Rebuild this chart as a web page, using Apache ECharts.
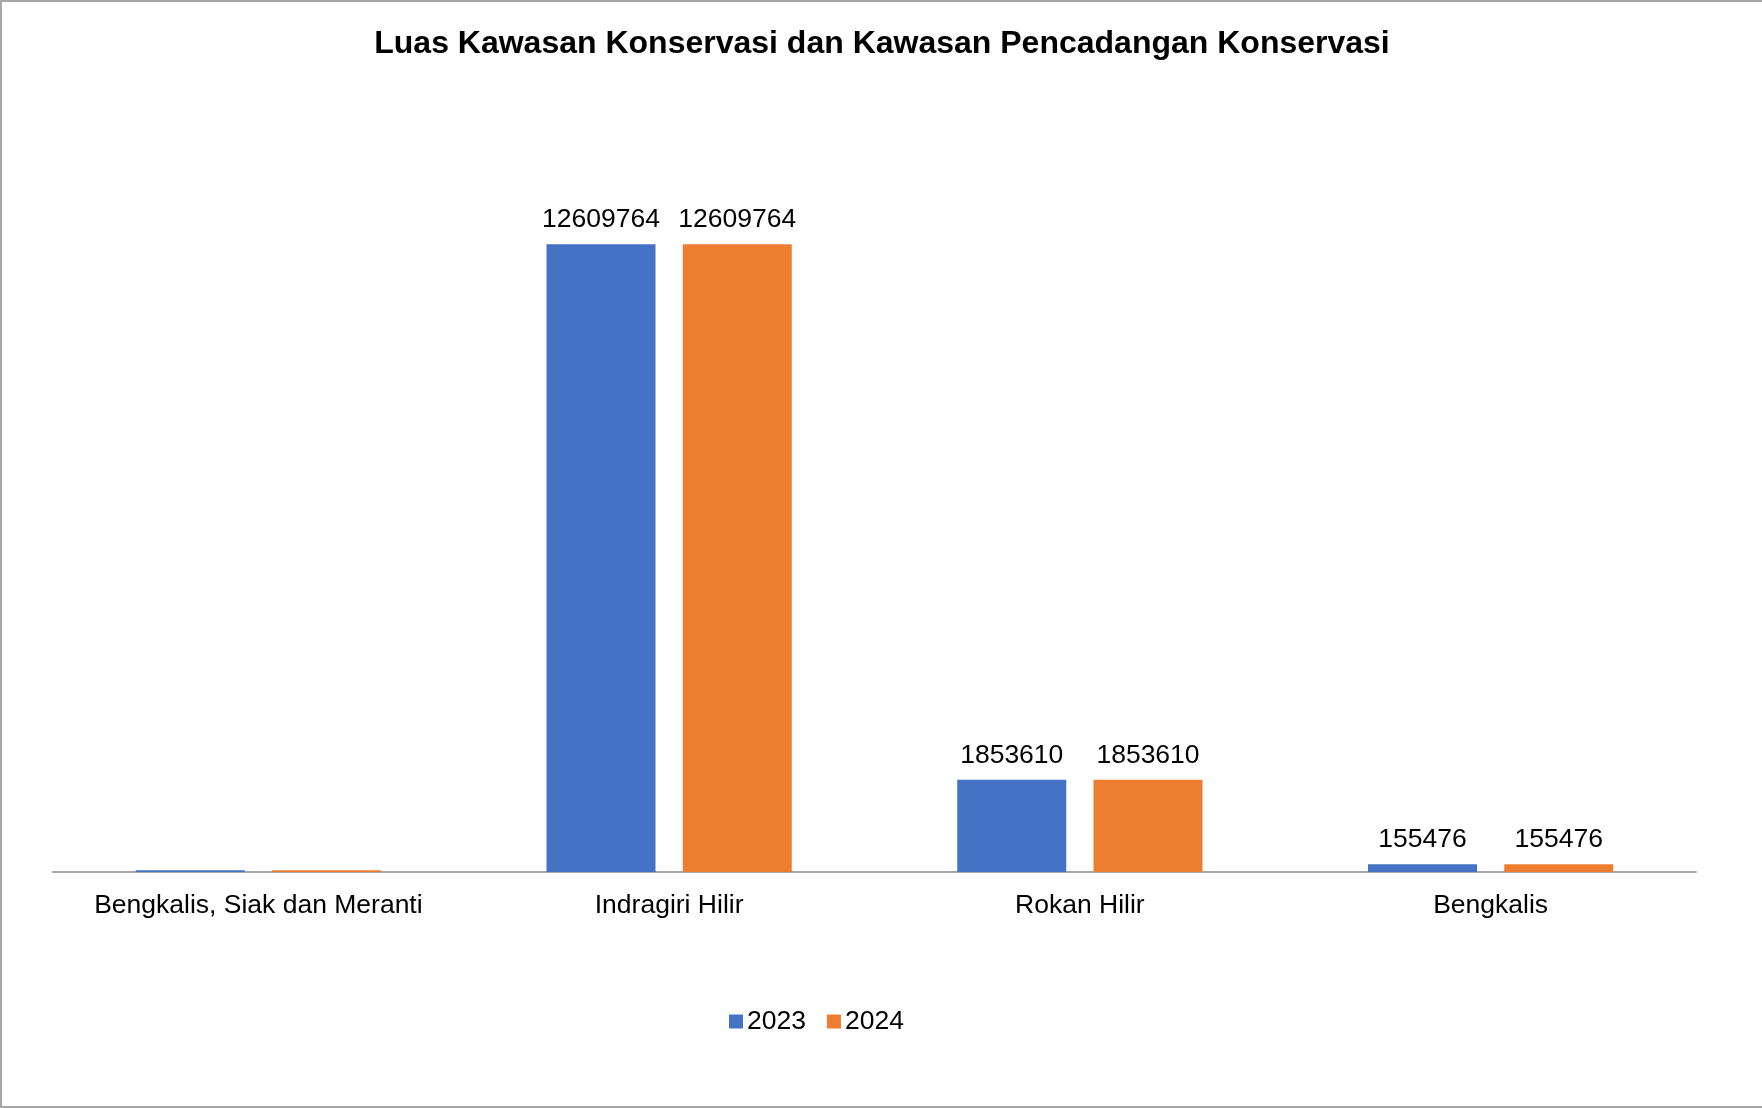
<!DOCTYPE html>
<html lang="id">
<head>
    <meta charset="UTF-8">
    <title>Luas Kawasan Konservasi</title>
    <script src="https://cdn.jsdelivr.net/npm/echarts@6/dist/echarts.min.js"></script>
    <style>
        html, body { margin: 0; padding: 0; background: #fff; }
        #chart {
            width: 1762px; height: 1108px; box-sizing: border-box;
            border-top: 2px solid #a6a6a6;
            border-left: 2px solid #a6a6a6;
            border-bottom: 2px solid #a6a6a6;
        }
    </style>
</head>
<body>
    <div id="chart"></div>
    <script>
        // data
        const categories = ['Bengkalis, Siak dan Meranti', 'Indragiri Hilir', 'Rokan Hilir', 'Bengkalis']
        const values2023 = [35000, 12609764, 1853610, 155476]
        const values2024 = [35000, 12609764, 1853610, 155476]
        const labelShown = [false, true, true, true]

        const font = 'Arial, "Liberation Sans", sans-serif'

        function toItems(values) {
            return values.map((v, i) => ({
                value: v,
                label: { show: labelShown[i] }
            }))
        }

        const chart = echarts.init(document.getElementById('chart'))
        chart.setOption({
            animation: false,
            title: {
                text: 'Luas Kawasan Konservasi dan Kawasan Pencadangan Konservasi',
                left: 'center',
                top: 21,
                textStyle: { fontFamily: font, fontSize: 32, fontWeight: 'bold', color: '#000' }
            },
            legend: {
                left: 722,
                top: 1001,
                itemWidth: 14,
                itemHeight: 14,
                itemGap: 21,
                icon: 'rect',
                textStyle: { fontFamily: font, fontSize: 26.5, color: '#000', padding: [0, 0, 0, -1] },
                data: ['2023', '2024']
            },
            grid: { left: 51, right: 66, top: 173, bottom: 234 },
            xAxis: {
                type: 'category',
                data: categories,
                axisLine: { lineStyle: { color: '#a6a6a6', width: 2 } },
                axisTick: { show: false },
                axisLabel: { interval: 0, fontFamily: font, fontSize: 26.5, color: '#000', margin: 20 }
            },
            yAxis: {
                type: 'value',
                min: 0,
                max: 14000000,
                show: false,
                splitLine: { show: false }
            },
            series: [
                {
                    name: '2023',
                    type: 'bar',
                    data: toItems(values2023),
                    barWidth: 109,
                    barGap: '25%',
                    itemStyle: { color: '#4472c4' },
                    label: { position: 'top', distance: 11, fontFamily: font, fontSize: 26.5, color: '#000' }
                },
                {
                    name: '2024',
                    type: 'bar',
                    data: toItems(values2024),
                    barWidth: 109,
                    barGap: '25%',
                    itemStyle: { color: '#ed7d31' },
                    label: { position: 'top', distance: 11, fontFamily: font, fontSize: 26.5, color: '#000' }
                }
            ]
        })
    </script>
</body>
</html>
